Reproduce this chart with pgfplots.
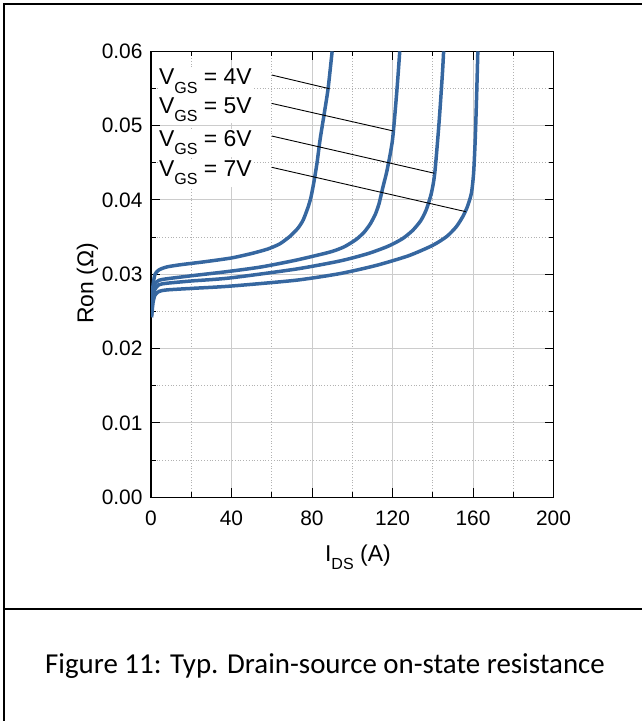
\documentclass[border=0pt]{standalone}
\usepackage{fontspec}
\setmainfont{Liberation Sans}
\newfontfamily\capfont{Carlito}
\usepackage{pgfplots}
\pgfplotsset{compat=1.18}
\definecolor{curve}{RGB}{54,103,160}
\newcommand{\lsub}[1]{\raisebox{-0.36em}{\scalebox{0.7}{#1}}}

\pgfplotstableread{
x y
0.3 0.0255
1 0.0285
2 0.0300
4 0.0306
8 0.0310
15 0.0313
27 0.0317
40 0.0322
50 0.0328
58 0.0334
64 0.0341
69 0.0351
73 0.0362
75.6 0.0373
78 0.0390
79.5 0.0404
81 0.0425
82.5 0.0450
84 0.0481
86 0.0515
88 0.0550
90 0.0600
}\vfour
\pgfplotstableread{
x y
0.3 0.0250
1 0.0275
2 0.0287
4 0.0292
8 0.0294
20 0.0298
39 0.0304
55 0.0310
72 0.0319
89 0.0330
96 0.0337
102 0.0347
106 0.0357
109 0.0368
111.5 0.0381
113.3 0.0395
115.3 0.0418
117.3 0.0440
120 0.0481
122.2 0.0548
123.6 0.0600
}\vfive
\pgfplotstableread{
x y
0.3 0.0245
1 0.0270
2 0.0280
4 0.0286
8 0.0288
20 0.0291
39 0.0295
72 0.0307
94 0.0318
108 0.0328
118 0.0338
125 0.0348
130 0.0359
134 0.0372
136.8 0.0387
139.3 0.0409
141 0.0436
143.1 0.0503
144.8 0.0570
145.4 0.0600
}\vsix
\pgfplotstableread{
x y
0.3 0.0242
1 0.0262
2 0.0272
4 0.0277
8 0.0279
20 0.0281
39 0.0284
72 0.0292
94 0.0301
112 0.0312
128 0.0325
140 0.0339
147 0.0351
151.7 0.0364
155 0.0378
157.2 0.0391
159.2 0.0409
160.3 0.0436
161.1 0.0481
161.8 0.0540
162.4 0.0600
}\vseven

\begin{document}
\begin{tikzpicture}
\useasboundingbox (0bp,0bp) rectangle (642bp,721bp);
\draw[line width=2bp] (4bp,0bp) -- (4bp,717bp) -- (642bp,717bp);
\draw[line width=2bp] (4bp,112bp) -- (642bp,112bp);
\node[font=\capfont\fontsize{29}{34}\selectfont, anchor=base] at (325bp,47bp) {Figure 11: Typ. Drain-source on-state resistance};
\begin{axis}[
  at={(151bp,223.8bp)}, anchor=south west,
  scale only axis, width=402.5bp, height=445.8bp,
  xmin=0, xmax=200, ymin=0, ymax=0.06,
  xtick={0,40,80,120,160,200}, minor xtick={20,60,100,140,180},
  ytick={0,0.01,0.02,0.03,0.04,0.05,0.06},
  minor ytick={0.005,0.015,0.025,0.035,0.045,0.055},
  grid=both,
  major grid style={line width=1bp, color=black!20},
  minor grid style={line width=0.8bp, color=black!30, dotted},
  tick align=inside,
  major tick length=9bp, minor tick length=5bp,
  tick style={black, line width=1bp},
  axis line style={line width=1.3bp},
  scaled y ticks=false,
  yticklabel style={/pgf/number format/fixed, /pgf/number format/fixed zerofill, /pgf/number format/precision=2, xshift=-5bp},
  xticklabel style={yshift=-10bp},
  ticklabel style={font=\fontsize{21}{25}\selectfont},
  /pgf/number format/assume math mode=true,
  xlabel={I\lsub{DS} (A)},
  ylabel={Ron (Ω)},
  xlabel style={at={([yshift=-64bp]axis description cs:0.514,0)}, anchor=base},
  ylabel style={at={([xshift=-57.7bp]axis description cs:0,0.48)}, anchor=base},
  label style={font=\fontsize{23}{27}\selectfont},
  clip=true,
]
\addplot[curve, line width=3.5bp, smooth, tension=0.4] table {\vfour};
\addplot[curve, line width=3.5bp, smooth, tension=0.4] table {\vfive};
\addplot[curve, line width=3.5bp, smooth, tension=0.4] table {\vsix};
\addplot[curve, line width=3.5bp, smooth, tension=0.4] table {\vseven};
\draw[line width=0.9bp] (axis cs:60,0.05682) -- (axis cs:88.6,0.05498);
\draw[line width=0.9bp] (axis cs:60,0.0530) -- (axis cs:120.4,0.04929);
\draw[line width=0.9bp] (axis cs:60,0.04861) -- (axis cs:140.8,0.0436);
\draw[line width=0.9bp] (axis cs:60,0.0444) -- (axis cs:156.4,0.03843);
\begin{scope}[every node/.style={anchor=base west, fill=white, inner sep=1.5bp, font=\fontsize{23}{27}\selectfont}]
\node at (axis cs:3.2,0.05548) {V\lsub{GS} = 4V};
\node at (axis cs:3.2,0.05167) {V\lsub{GS} = 5V};
\node at (axis cs:3.2,0.04717) {V\lsub{GS} = 6V};
\node at (axis cs:3.2,0.04314) {V\lsub{GS} = 7V};
\end{scope}
\end{axis}
\end{tikzpicture}
\end{document}
